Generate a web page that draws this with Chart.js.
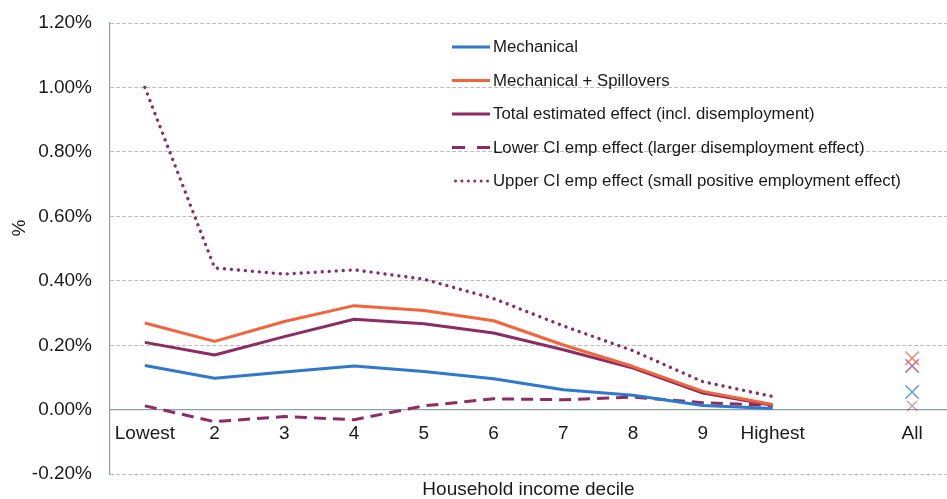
<!DOCTYPE html>
<html>
<head>
<meta charset="utf-8">
<script src="https://cdn.jsdelivr.net/npm/chart.js@4/dist/chart.umd.min.js"></script>
<style>
  html, body { margin: 0; padding: 0; background: #ffffff; overflow: hidden; }
  #wrap { width: 947px; height: 499px; overflow: hidden; position: relative; }
  canvas { display: block; }
</style>
</head>
<body>
<div id="wrap"><canvas id="c" width="958" height="499"></canvas></div>
<script>
// ---- data ----
const categories = ['Lowest', '2', '3', '4', '5', '6', '7', '8', '9', 'Highest', '', 'All'];
const mechanical = [0.137, 0.098, 0.117, 0.136, 0.119, 0.096, 0.062, 0.045, 0.013, 0.004, null, 0.055];
const mechSpillovers = [0.269, 0.212, 0.274, 0.323, 0.308, 0.276, 0.201, 0.134, 0.057, 0.016, null, 0.160];
const totalEffect = [0.209, 0.170, 0.227, 0.281, 0.267, 0.238, 0.186, 0.129, 0.052, 0.014, null, 0.136];
const lowerCI = [0.012, -0.037, -0.021, -0.031, 0.012, 0.034, 0.031, 0.039, 0.022, 0.013, null, 0.012];
const upperCI = [1.000, 0.440, 0.421, 0.434, 0.405, 0.345, 0.260, 0.183, 0.087, 0.041, null, null];
const seriesNames = [
  'Mechanical',
  'Mechanical + Spillovers',
  'Total estimated effect (incl. disemployment)',
  'Lower CI emp effect (larger disemployment effect)',
  'Upper CI emp effect (small positive employment effect)'
];
const yTicks = [-0.2, 0, 0.2, 0.4, 0.6, 0.8, 1.0, 1.2];

const FONT = "'Liberation Sans', Arial, sans-serif";
const TEXT = '#1a1a1a';
const BLUE = '#2F78CC';
const ORANGE = '#F2643C';
const PURPLE = '#8C2C62';
const AXIS = '#8DA0A8';
const ALL_INDEX = categories.indexOf('All');

function markerRadius(r) {
  return (ctx) => ctx.dataIndex === ALL_INDEX ? r : 0;
}

function lineDataset(label, data, color, markerColor, opts) {
  return Object.assign({
    label: label,
    data: data,
    borderColor: color,
    backgroundColor: color,
    borderWidth: 3,
    borderJoinStyle: 'round',
    tension: 0,
    spanGaps: false,
    pointStyle: 'crossRot',
    pointRadius: markerRadius(9.5),
    pointHoverRadius: markerRadius(9.5),
    pointBorderColor: markerColor,
    pointBackgroundColor: markerColor,
    pointBorderWidth: 1.5,
    pointHoverBorderWidth: 1.5
  }, opts || {});
}

const datasets = [
  lineDataset(seriesNames[0], mechanical, BLUE, 'rgba(47,120,204,0.75)'),
  lineDataset(seriesNames[1], mechSpillovers, ORANGE, 'rgba(242,100,60,0.75)'),
  lineDataset(seriesNames[2], totalEffect, PURPLE, 'rgba(140,44,98,0.65)'),
  lineDataset(seriesNames[3], lowerCI, PURPLE, 'rgba(140,44,98,0.45)', {
    borderDash: [12, 7], pointRadius: markerRadius(7), pointHoverRadius: markerRadius(7)
  }),
  lineDataset(seriesNames[4], upperCI, PURPLE, 'rgba(140,44,98,0.45)', {
    borderDash: [0.01, 7], borderCapStyle: 'round', borderWidth: 3.4
  })
];

const legendStyles = [
  { color: BLUE, dash: [], cap: 'butt' },
  { color: ORANGE, dash: [], cap: 'butt' },
  { color: PURPLE, dash: [], cap: 'butt' },
  { color: PURPLE, dash: [13, 12], cap: 'butt' },
  { color: PURPLE, dash: [0.01, 6.4], cap: 'round', offset: -1.5 }
];

const overlayPlugin = {
  id: 'overlay',
  afterDraw(chart) {
    const ctx = chart.ctx;
    ctx.save();
    // legend
    const x0 = 452, x1 = 490, tx = 493, y0 = 47, dy = 33.5;
    ctx.font = '16.8px ' + FONT;
    ctx.textAlign = 'left';
    ctx.textBaseline = 'middle';
    seriesNames.forEach((name, i) => {
      const y = y0 + i * dy;
      const st = legendStyles[i];
      ctx.save();
      ctx.strokeStyle = st.color;
      ctx.lineWidth = 3;
      ctx.lineCap = st.cap;
      ctx.setLineDash(st.dash);
      ctx.lineDashOffset = st.offset || 0;
      ctx.beginPath();
      ctx.moveTo(x0 + (st.cap === 'round' ? 2 : 0), y);
      ctx.lineTo(x1, y);
      ctx.stroke();
      ctx.restore();
      ctx.fillStyle = TEXT;
      ctx.fillText(name, tx, y + 0.5);
    });
    // y axis title
    ctx.translate(20, 228);
    ctx.rotate(-Math.PI / 2);
    ctx.font = '19px ' + FONT;
    ctx.textAlign = 'center';
    ctx.textBaseline = 'middle';
    ctx.fillStyle = TEXT;
    ctx.fillText('%', 0, 0);
    ctx.restore();
  }
};

new Chart(document.getElementById('c'), {
  type: 'line',
  data: { labels: categories, datasets: datasets },
  options: {
    responsive: false,
    animation: false,
    events: [],
    layout: { padding: { top: 23, left: 0, right: 0, bottom: 0 } },
    plugins: { legend: { display: false }, tooltip: { enabled: false }, title: { display: false } },
    scales: {
      x: {
        type: 'category',
        position: { y: 0 },
        offset: true,
        grid: { display: false, drawTicks: false },
        border: { display: true, color: AXIS, width: 1.2 },
        ticks: {
          autoSkip: false, maxRotation: 0, minRotation: 0, padding: 13,
          color: TEXT, font: { family: FONT, size: 19 }
        }
      },
      x2: {
        type: 'category',
        position: 'bottom',
        offset: true,
        grid: { display: false, drawTicks: false },
        border: { display: false },
        ticks: { display: false },
        title: {
          display: true, text: 'Household income decile', color: TEXT,
          font: { family: FONT, size: 19 }, padding: { top: 4, bottom: -2 }
        }
      },
      y: {
        type: 'linear',
        position: 'left',
        min: -0.2,
        max: 1.2,
        afterFit(scale) {
          scale.width = 110;
          scale.paddingTop = 10;
          scale.paddingBottom = 10;
        },
        afterBuildTicks(scale) { scale.ticks = yTicks.map(v => ({ value: v })); },
        grid: {
          display: true, drawTicks: false, color: '#BDBDBD', lineWidth: 1
        },
        border: { display: true, color: AXIS, width: 1.2, dash: [4, 2] },
        ticks: {
          padding: 18, color: TEXT, font: { family: FONT, size: 19 },
          callback: (v) => Number(v).toFixed(2) + '%'
        }
      }
    }
  },
  plugins: [overlayPlugin]
});
</script>
</body>
</html>
